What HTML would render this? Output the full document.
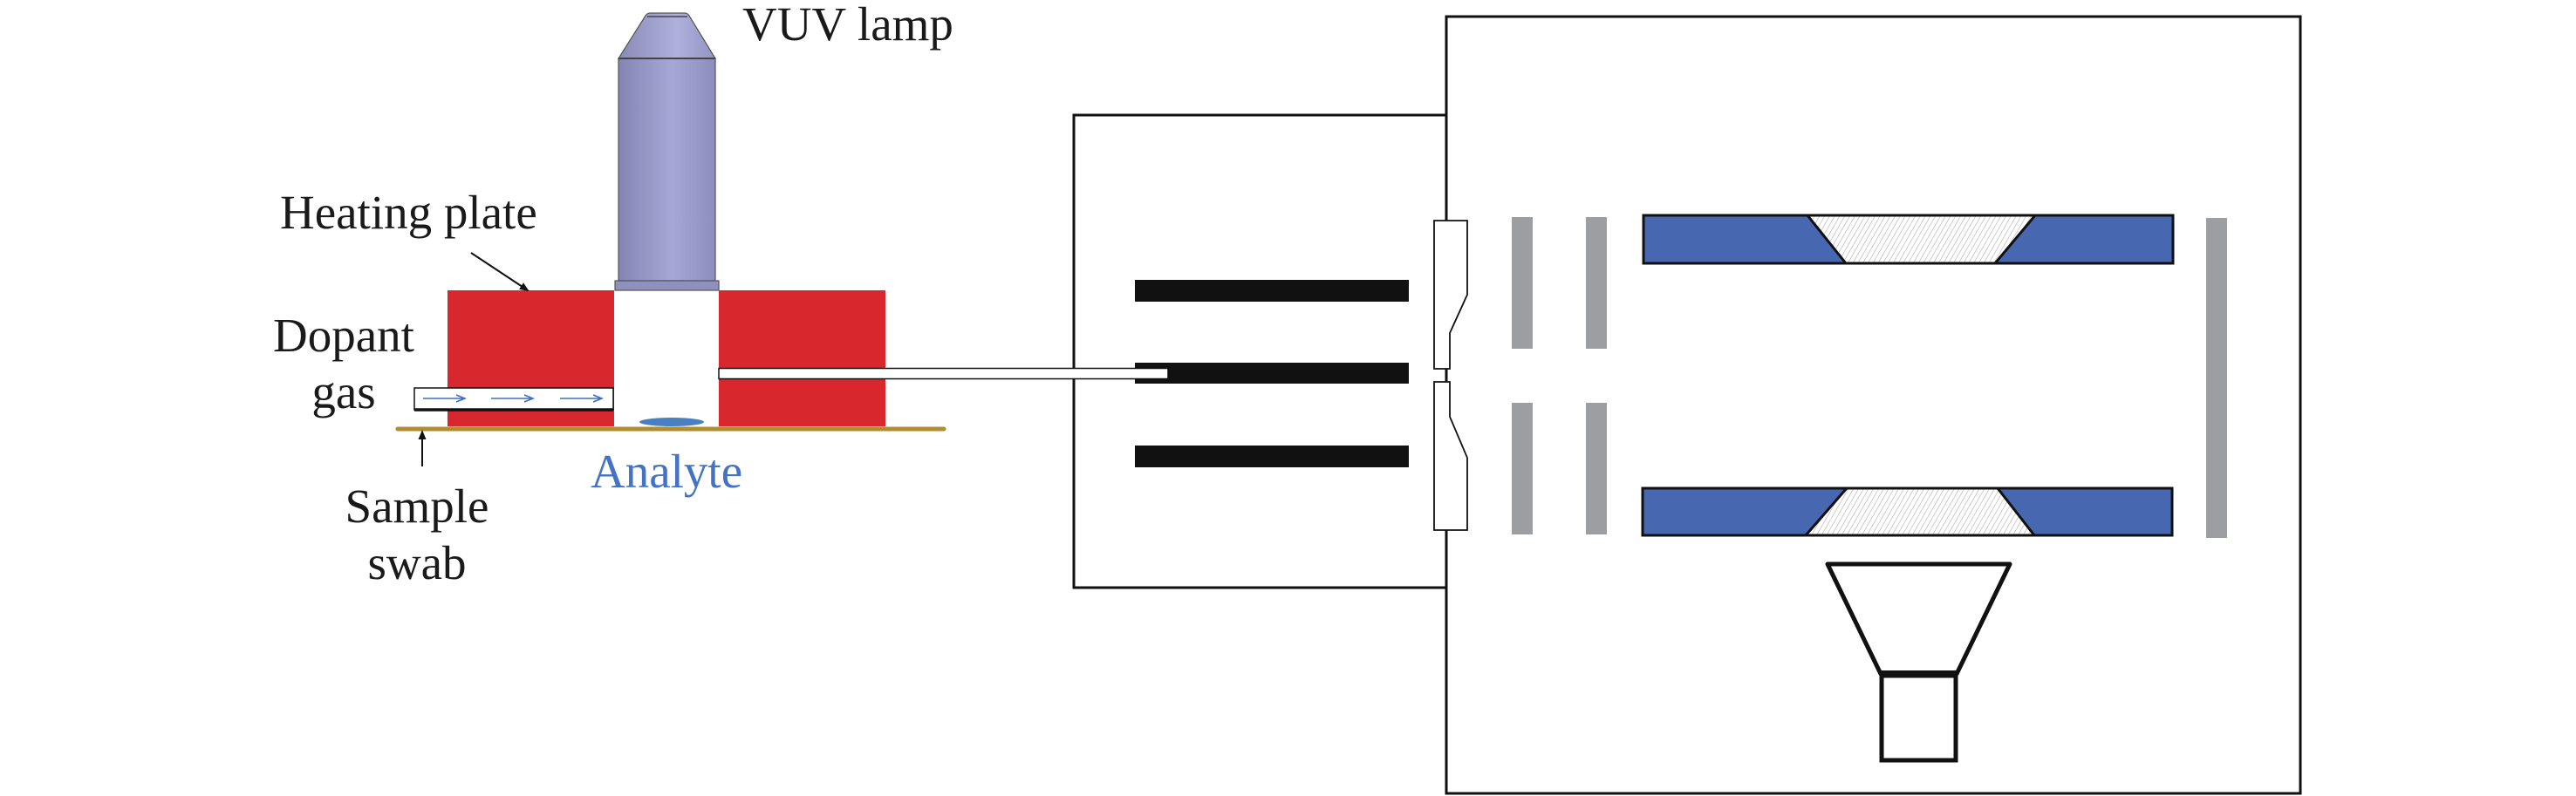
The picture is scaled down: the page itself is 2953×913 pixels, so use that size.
<!DOCTYPE html>
<html>
<head>
<meta charset="utf-8">
<style>
  html, body { margin:0; padding:0; background:#ffffff; }
  body { width:2953px; height:913px; overflow:hidden; }
  svg { display:block; }
  text { font-family: "Liberation Serif", "Times New Roman", serif; }
</style>
</head>
<body>
<svg width="2953" height="913" viewBox="0 0 2953 913" xmlns="http://www.w3.org/2000/svg">
  <defs>
    <linearGradient id="lampG" x1="0" y1="0" x2="1" y2="0">
      <stop offset="0" stop-color="#8585b2"/>
      <stop offset="0.55" stop-color="#a7a7d7"/>
      <stop offset="1" stop-color="#8e8ebe"/>
    </linearGradient>
    <linearGradient id="coneG" x1="0" y1="0" x2="1" y2="0">
      <stop offset="0" stop-color="#8a8ab8"/>
      <stop offset="0.6" stop-color="#b0b0dc"/>
      <stop offset="1" stop-color="#9494c4"/>
    </linearGradient>
    <pattern id="hatch" width="5" height="5" patternUnits="userSpaceOnUse" patternTransform="rotate(30)">
      <rect width="5" height="5" fill="#ffffff"/>
      <line x1="0" y1="0" x2="0" y2="5" stroke="#b4b4b4" stroke-width="1.3"/>
    </pattern>
    <marker id="ah" markerWidth="12" markerHeight="12" refX="9" refY="6" orient="auto" markerUnits="userSpaceOnUse">
      <path d="M0,1.5 L11,6 L0,10.5 Z" fill="#111"/>
    </marker>
    <marker id="ab" markerWidth="12" markerHeight="10" refX="10" refY="5" orient="auto" markerUnits="userSpaceOnUse">
      <path d="M0,1 L10,5 L0,9" fill="none" stroke="#3d6fc0" stroke-width="1.6"/>
    </marker>
  </defs>

  <!-- ========== LEFT: source ========== -->
  <!-- VUV lamp -->
  <path d="M745,15 L785,15 Q788,15 790,18 L820,67 L709,67 L740,18 Q742,15 745,15 Z" fill="url(#coneG)" stroke="#555" stroke-width="1.2"/>
  <line x1="742" y1="19" x2="788" y2="19" stroke="#444" stroke-width="1.5"/>
  <rect x="709" y="67" width="111" height="255" fill="url(#lampG)" stroke="#555" stroke-width="1.2"/>
  <line x1="709" y1="67" x2="820" y2="67" stroke="#444" stroke-width="2"/>
  <rect x="705" y="322" width="119" height="11" fill="#9090c0" stroke="#555" stroke-width="1.2"/>

  <!-- Heating plate blocks -->
  <rect x="513" y="333" width="191" height="156" fill="#d9282d"/>
  <rect x="824" y="333" width="191" height="156" fill="#d9282d"/>

  <!-- Dopant gas tube -->
  <rect x="475" y="445" width="228" height="25" fill="#ffffff" stroke="#111" stroke-width="1.5"/>
  <line x1="475" y1="470" x2="703" y2="470" stroke="#111" stroke-width="3.5"/>
  <line x1="485" y1="457" x2="533" y2="457" stroke="#3d6fc0" stroke-width="1.6" marker-end="url(#ab)"/>
  <line x1="563" y1="457" x2="611" y2="457" stroke="#3d6fc0" stroke-width="1.6" marker-end="url(#ab)"/>
  <line x1="642" y1="457" x2="690" y2="457" stroke="#3d6fc0" stroke-width="1.6" marker-end="url(#ab)"/>

  <!-- Sample swab -->
  <line x1="456" y1="492" x2="1082" y2="492" stroke="#b08c33" stroke-width="5" stroke-linecap="round"/>
  <!-- Analyte -->
  <ellipse cx="770" cy="484" rx="37" ry="5" fill="#4a7fc1"/>

  <!-- arrows -->
  <line x1="540" y1="290" x2="605" y2="333" stroke="#111" stroke-width="2" marker-end="url(#ah)"/>
  <line x1="484" y1="535" x2="484" y2="495" stroke="#111" stroke-width="2" marker-end="url(#ah)"/>

  <!-- labels -->
  <text x="851" y="46" font-size="55" fill="#1a1a1a">VUV lamp</text>
  <text x="321" y="262" font-size="55" fill="#1a1a1a">Heating plate</text>
  <text x="394" y="403" font-size="55" fill="#1a1a1a" text-anchor="middle">Dopant</text>
  <text x="394" y="468" font-size="55" fill="#1a1a1a" text-anchor="middle">gas</text>
  <text x="478" y="599" font-size="55" fill="#1a1a1a" text-anchor="middle">Sample</text>
  <text x="478" y="664" font-size="55" fill="#1a1a1a" text-anchor="middle">swab</text>
  <text x="677" y="559" font-size="55" fill="#4472c4">Analyte</text>

  <!-- ========== RIGHT: instrument ========== -->
  <!-- small ionization box -->
  <rect x="1231" y="132" width="427" height="542" fill="none" stroke="#111" stroke-width="3"/>
  <!-- big box -->
  <rect x="1658" y="19" width="979" height="891" fill="none" stroke="#111" stroke-width="3"/>

  <!-- rods -->
  <rect x="1301" y="321" width="314" height="25" fill="#111"/>
  <rect x="1301" y="416" width="314" height="24" fill="#111"/>
  <rect x="1301" y="511" width="314" height="25" fill="#111"/>

  <!-- capillary transfer line -->
  <rect x="824" y="422.5" width="515" height="12" fill="#ffffff" stroke="#111" stroke-width="1.5"/>

  <!-- aperture plates -->
  <path d="M1644,253 L1682,253 L1682,338 L1662,382 L1662,423 L1644,423 Z" fill="#ffffff" stroke="#111" stroke-width="1.8"/>
  <path d="M1644,438 L1662,438 L1662,478 L1682,525 L1682,608 L1644,608 Z" fill="#ffffff" stroke="#111" stroke-width="1.8"/>

  <!-- grey lenses -->
  <rect x="1733" y="249" width="24" height="151" fill="#9c9ea2"/>
  <rect x="1818" y="249" width="24" height="151" fill="#9c9ea2"/>
  <rect x="1733" y="462" width="24" height="151" fill="#9c9ea2"/>
  <rect x="1818" y="462" width="24" height="151" fill="#9c9ea2"/>
  <rect x="2529" y="250" width="24" height="367" fill="#9c9ea2"/>

  <!-- upper blue plate -->
  <rect x="1884" y="247" width="607" height="55" fill="#4767b0" stroke="#111" stroke-width="3"/>
  <path d="M2072,247 L2333,247 L2287,302 L2116,302 Z" fill="url(#hatch)" stroke="#111" stroke-width="3" stroke-linejoin="round"/>
  <!-- lower blue plate -->
  <rect x="1883" y="560" width="607" height="54" fill="#4767b0" stroke="#111" stroke-width="3"/>
  <path d="M2117,560 L2290,560 L2332,614 L2070,614 Z" fill="url(#hatch)" stroke="#111" stroke-width="3" stroke-linejoin="round"/>

  <!-- detector funnel -->
  <path d="M2095,647 L2304,647 L2243,773 L2156,773 Z" fill="#ffffff" stroke="#111" stroke-width="5" stroke-linejoin="round"/>
  <line x1="2155" y1="773" x2="2244" y2="773" stroke="#111" stroke-width="8"/>
  <rect x="2157" y="775" width="85" height="97" fill="#ffffff" stroke="#111" stroke-width="5"/>
</svg>
</body>
</html>
